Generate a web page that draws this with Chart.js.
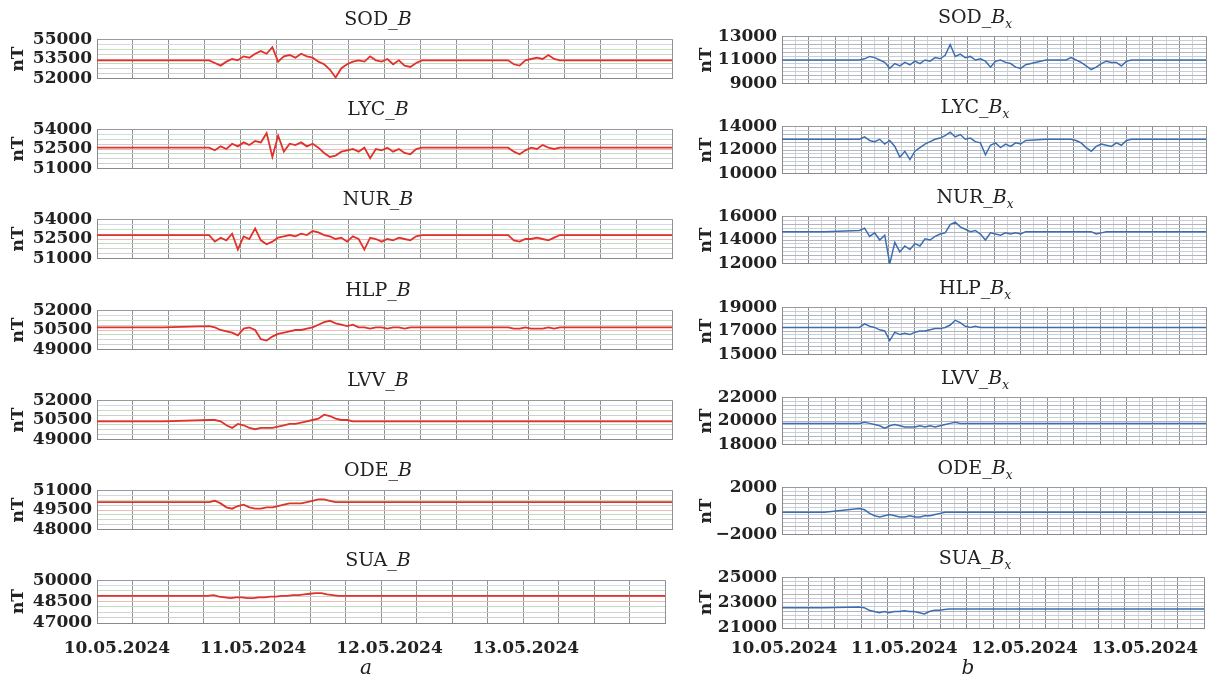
<!DOCTYPE html>
<html>
<head>
<meta charset="utf-8">
<script src="https://cdn.jsdelivr.net/npm/chart.js@4.4.1/dist/chart.umd.min.js"></script>
<style>
  body { margin: 0; background: #fff; width: 1214px; height: 680px; overflow: hidden; position: relative; font-family: "DejaVu Serif", serif; }
  canvas { position: absolute; }
  .ttl { position: absolute; font-size: 19px; line-height: 20px; color: #222; transform: translateX(-50%); white-space: nowrap; }
  .ttl sub { font-size: 12px; line-height: 0; }
  .cap { position: absolute; font-size: 20px; font-style: italic; color: #222; transform: translateX(-50%); }
</style>
</head>
<body>
<script>
// stations and axis labels
const stations = ['SOD', 'LYC', 'NUR', 'HLP', 'LVV', 'ODE', 'SUA'];
const dayLabels = ['10.05.2024', '11.05.2024', '12.05.2024', '13.05.2024'];
const dayHours = [0, 24, 48, 72];

// hours from 10.05.2024 00:00 UT
const timesLeft = [-3.5, 8, 16, 17, 18, 19, 20, 21, 22, 23,
  24, 25, 26, 27, 28, 29, 30, 31, 32, 33,
  34, 35, 36, 37, 38, 39, 40, 41, 42, 43,
  44, 45, 46, 47, 48, 49, 50, 51, 52, 53,
  60, 68, 69, 70, 71, 72, 73, 74, 75, 76,
  77, 86, 96.5];
const timesRight = [-0.4, 8, 15, 16, 17, 18, 19, 20, 21, 22,
  23, 24, 25, 26, 27, 28, 29, 30, 31, 32,
  33, 34, 35, 36, 37, 38, 39, 40, 41, 42,
  43, 44, 45, 46, 47, 48, 52, 56, 57, 58,
  59, 60, 61, 62, 63, 64, 65, 66, 67, 68,
  69, 76, 83.8];

// total field B, nT
const sodB = [53400, 53400, 53400, 53200, 53000, 53300, 53500, 53400, 53700, 53600,
  53900, 54100, 53900, 54400, 53300, 53700, 53800, 53600, 53900, 53700,
  53600, 53300, 53100, 52700, 52100, 52800, 53100, 53300, 53400, 53300,
  53700, 53400, 53300, 53500, 53100, 53400, 53000, 52900, 53200, 53400,
  53400, 53400, 53100, 53000, 53400, 53500, 53600, 53500, 53800, 53500,
  53400, 53400, 53400];
const lycB = [52600, 52600, 52600, 52400, 52700, 52500, 52900, 52700, 53000, 52800,
  53100, 53000, 53700, 51900, 53500, 52300, 52900, 52800, 53000, 52700,
  52900, 52600, 52200, 51900, 52000, 52300, 52400, 52500, 52300, 52600,
  51800, 52500, 52400, 52600, 52300, 52500, 52200, 52100, 52500, 52600,
  52600, 52600, 52300, 52100, 52400, 52600, 52500, 52800, 52600, 52500,
  52600, 52600, 52600];
const nurB = [52800, 52800, 52800, 52300, 52600, 52400, 52900, 51700, 52700, 52500,
  53300, 52400, 52100, 52300, 52600, 52700, 52800, 52700, 52900, 52800,
  53100, 53000, 52800, 52700, 52500, 52600, 52300, 52700, 52500, 51700,
  52600, 52500, 52300, 52500, 52400, 52600, 52500, 52400, 52700, 52800,
  52800, 52800, 52400, 52300, 52500, 52500, 52600, 52500, 52400, 52600,
  52800, 52800, 52800];
const hlpB = [50700, 50700, 50800, 50700, 50500, 50400, 50300, 50100, 50600, 50700,
  50500, 49800, 49700, 50000, 50200, 50300, 50400, 50500, 50500, 50600,
  50700, 50900, 51100, 51200, 51000, 50900, 50800, 50900, 50700, 50700,
  50600, 50700, 50700, 50600, 50700, 50700, 50600, 50700, 50700, 50700,
  50700, 50700, 50600, 50600, 50700, 50600, 50600, 50600, 50700, 50600,
  50700, 50700, 50700];
const lvvB = [50400, 50400, 50500, 50500, 50400, 50100, 49900, 50200, 50100, 49900,
  49800, 49900, 49900, 49900, 50000, 50100, 50200, 50200, 50300, 50400,
  50500, 50600, 50900, 50800, 50600, 50500, 50500, 50400, 50400, 50400,
  50400, 50400, 50400, 50400, 50400, 50400, 50400, 50400, 50400, 50400,
  50400, 50400, 50400, 50400, 50400, 50400, 50400, 50400, 50400, 50400,
  50400, 50400, 50400];
const odeB = [50100, 50100, 50100, 50200, 50000, 49700, 49600, 49800, 49900, 49700,
  49600, 49600, 49700, 49700, 49800, 49900, 50000, 50000, 50000, 50100,
  50200, 50300, 50300, 50200, 50100, 50100, 50100, 50100, 50100, 50100,
  50100, 50100, 50100, 50100, 50100, 50100, 50100, 50100, 50100, 50100,
  50100, 50100, 50100, 50100, 50100, 50100, 50100, 50100, 50100, 50100,
  50100, 50100, 50100];
const suaB = [48900, 48900, 48900, 48950, 48850, 48800, 48750, 48800, 48800, 48750,
  48750, 48800, 48800, 48850, 48850, 48900, 48900, 48950, 48950, 49000,
  49050, 49100, 49100, 49000, 48950, 48900, 48900, 48900, 48900, 48900,
  48900, 48900, 48900, 48900, 48900, 48900, 48900, 48900, 48900, 48900,
  48900, 48900, 48900, 48900, 48900, 48900, 48900, 48900, 48900, 48900,
  48900, 48900, 48900];

// northward component Bx, nT
const sodBx = [11000, 11000, 11000, 11100, 11300, 11200, 11000, 10800, 10300, 10700,
  10500, 10800, 10600, 10900, 10700, 11000, 10900, 11200, 11100, 11400,
  12300, 11300, 11500, 11200, 11300, 11000, 11100, 10900, 10400, 10900,
  11000, 10800, 10700, 10400, 10300, 10600, 11000, 11000, 11200, 11000,
  10800, 10500, 10200, 10400, 10700, 10900, 10800, 10800, 10500, 10900,
  11000, 11000, 11000];
const lycBx = [12900, 12900, 12900, 13100, 12800, 12700, 12900, 12500, 12800, 12300,
  11400, 11900, 11200, 11900, 12200, 12500, 12700, 12900, 13000, 13200,
  13500, 13100, 13300, 12900, 13000, 12700, 12600, 11600, 12400, 12600,
  12200, 12500, 12300, 12600, 12500, 12800, 12900, 12900, 12900, 12800,
  12600, 12200, 11900, 12300, 12500, 12400, 12300, 12600, 12400, 12800,
  12900, 12900, 12900];
const nurBx = [14700, 14700, 14800, 15000, 14300, 14600, 14000, 14400, 12000, 13800,
  13000, 13500, 13200, 13700, 13500, 14100, 14000, 14300, 14500, 14600,
  15300, 15500, 15100, 14900, 14700, 14800, 14500, 14000, 14600, 14500,
  14400, 14600, 14500, 14600, 14500, 14700, 14700, 14700, 14700, 14700,
  14700, 14700, 14700, 14500, 14600, 14700, 14700, 14700, 14700, 14700,
  14700, 14700, 14700];
const hlpBx = [17300, 17300, 17300, 17600, 17400, 17300, 17100, 17000, 16200, 16900,
  16700, 16800, 16700, 16900, 17000, 17000, 17100, 17200, 17200, 17300,
  17500, 17900, 17700, 17400, 17300, 17400, 17300, 17300, 17300, 17300,
  17300, 17300, 17300, 17300, 17300, 17300, 17300, 17300, 17300, 17300,
  17300, 17300, 17300, 17300, 17300, 17300, 17300, 17300, 17300, 17300,
  17300, 17300, 17300];
const lvvBx = [19800, 19800, 19800, 19900, 19800, 19700, 19600, 19400, 19600, 19700,
  19600, 19500, 19500, 19500, 19600, 19500, 19600, 19500, 19600, 19700,
  19800, 19900, 19800, 19800, 19800, 19800, 19800, 19800, 19800, 19800,
  19800, 19800, 19800, 19800, 19800, 19800, 19800, 19800, 19800, 19800,
  19800, 19800, 19800, 19800, 19800, 19800, 19800, 19800, 19800, 19800,
  19800, 19800, 19800];
const odeBx = [-100, -100, 200, 100, -200, -400, -500, -400, -300, -400,
  -500, -500, -400, -500, -500, -400, -400, -300, -200, -100,
  -100, -100, -100, -100, -100, -100, -100, -100, -100, -100,
  -100, -100, -100, -100, -100, -100, -100, -100, -100, -100,
  -100, -100, -100, -100, -100, -100, -100, -100, -100, -100,
  -100, -100, -100];
const suaBx = [22600, 22600, 22650, 22600, 22400, 22300, 22200, 22300, 22200, 22300,
  22300, 22350, 22300, 22300, 22200, 22100, 22300, 22400, 22400, 22450,
  22500, 22500, 22500, 22500, 22500, 22500, 22500, 22500, 22500, 22500,
  22500, 22500, 22500, 22500, 22500, 22500, 22500, 22500, 22500, 22500,
  22500, 22500, 22500, 22500, 22500, 22500, 22500, 22500, 22500, 22500,
  22500, 22500, 22500];

// y ranges per panel
const rangesB = [[52000, 55000], [51000, 54000], [51000, 54000], [49000, 52000], [49000, 52000], [48000, 51000], [47000, 50000]];
const rangesBx = [[9000, 13000], [10000, 14000], [12000, 16000], [15000, 19000], [18000, 22000], [-2000, 2000], [21000, 25000]];

const seriesB = [sodB, lycB, nurB, hlpB, lvvB, odeB, suaB];
const seriesBx = [sodBx, lycBx, nurBx, hlpBx, lvvBx, odeBx, suaBx];

const PITCH = 90.2;
const tickFont = {family: 'DejaVu Serif', weight: 'bold', size: 17};
const hGridLeft = ['#9a9a9a', '#cfcfcf', '#d2d2d2', '#c0dcc0', '#efb9b9', '#cfcfcf', '#c3e0c3', '#d0dbe6', '#9a9a9a'];

const columns = [
  {times: timesLeft, series: seriesB, ranges: rangesB, sub: false,
   xMin: -3.5, xMax: 96.5, xDiv: 16, yDiv: 8,
   canvasLeft: 0, axisW: 97, plotRight: 672, top0: 36, plotH: 46,
   titleX: 378, titleUp: 28, color: '#e0322b', lineW: 1.8, nTpad: 8, labelPad: 15,
   caption: 'a', captionX: 366,
   hGrid: i => hGridLeft[i], vGrid: () => '#919191'},
  {times: timesRight, series: seriesBx, ranges: rangesBx, sub: true,
   xMin: -0.4, xMax: 83.8, xDiv: 32, yDiv: 12,
   canvasLeft: 690, axisW: 92, plotRight: 1206, top0: 33, plotH: 54,
   titleX: 975, titleUp: 27, color: '#3d6db0', lineW: 1.5, nTpad: 6, labelPad: 10,
   caption: 'b', captionX: 968,
   hGrid: (i, n) => (i === 0 || i === n) ? '#9a9a9a' : (i % 2 ? '#c6d0dc' : '#b2b5ba'),
   vGrid: i => i % 2 ? '#d2d2d2' : '#8c8c8c'}
];

function fmt(v) {
  return v < 0 ? '\u2212' + Math.abs(v) : String(v);
}

columns.forEach(col => {
  stations.forEach((st, i) => {
    const bottom = i === stations.length - 1;
    const plotTop = Math.round(col.top0 + PITCH * i);
    const padT = 12, padB = 12, padR = 8;
    const xAxisH = bottom ? 34 : 0;
    const [lo, hi] = col.ranges[i];

    const cv = document.createElement('canvas');
    cv.width = col.plotRight + padR - col.canvasLeft;
    cv.height = padT + col.plotH + xAxisH + padB;
    cv.style.left = col.canvasLeft + 'px';
    cv.style.top = (plotTop - padT) + 'px';
    document.body.appendChild(cv);

    const ttl = document.createElement('div');
    ttl.className = 'ttl';
    ttl.innerHTML = st + '_<i>B</i>' + (col.sub ? '<sub><i>x</i></sub>' : '');
    ttl.style.left = col.titleX + 'px';
    ttl.style.top = (plotTop - col.titleUp) + 'px';
    document.body.appendChild(ttl);

    const vals = col.series[i];
    new Chart(cv, {
      type: 'line',
      data: {
        datasets: [{
          data: col.times.map((t, k) => ({x: t, y: vals[k]})),
          borderColor: col.color,
          borderWidth: col.lineW,
          pointRadius: 0,
          tension: 0
        }]
      },
      options: {
        responsive: false,
        animation: false,
        devicePixelRatio: 1,
        layout: {padding: {top: padT, bottom: padB, left: 0, right: padR}},
        plugins: {legend: {display: false}, tooltip: {enabled: false}},
        scales: {
          x: {
            type: 'linear',
            bounds: 'data',
            min: col.xMin,
            max: col.xMax,
            afterBuildTicks: s => {
              const t = [];
              for (let k = 0; k <= col.xDiv; k++) {
                t.push({value: col.xMin + (col.xMax - col.xMin) * k / col.xDiv, g: k});
              }
              dayHours.forEach((h, d) => t.push({value: h, day: dayLabels[d]}));
              t.sort((a, b) => a.value - b.value);
              s.ticks = t;
            },
            afterFit: s => { s.height = xAxisH; },
            ticks: {
              display: bottom,
              autoSkip: false,
              maxRotation: 0,
              padding: col.labelPad,
              color: '#222',
              font: tickFont,
              callback: (v, k, t) => t[k].day || ''
            },
            grid: {
              drawTicks: false,
              color: c => (!c.tick || c.tick.day) ? 'rgba(0,0,0,0)' : col.vGrid(c.tick.g)
            },
            border: {color: '#8a8a8a'}
          },
          y: {
            type: 'linear',
            bounds: 'data',
            min: lo,
            max: hi,
            afterBuildTicks: s => {
              const t = [];
              for (let k = 0; k <= col.yDiv; k++) t.push({value: lo + (hi - lo) * k / col.yDiv});
              s.ticks = t;
            },
            afterFit: s => { s.width = col.axisW; },
            ticks: {
              autoSkip: false,
              padding: 5,
              color: '#222',
              font: tickFont,
              callback: (v, k) => (k === 0 || k === col.yDiv || k === col.yDiv / 2) ? fmt(Math.round(v)) : ''
            },
            grid: {
              drawTicks: false,
              color: c => col.hGrid(c.index, col.yDiv)
            },
            border: {color: '#8a8a8a'},
            title: {
              display: true,
              text: 'nT',
              color: '#222',
              font: tickFont,
              padding: {top: col.nTpad, bottom: 0}
            }
          }
        }
      }
    });
  });

  const cap = document.createElement('div');
  cap.className = 'cap';
  cap.textContent = col.caption;
  cap.style.left = col.captionX + 'px';
  cap.style.top = '655px';
  document.body.appendChild(cap);
});
</script>
</body>
</html>
